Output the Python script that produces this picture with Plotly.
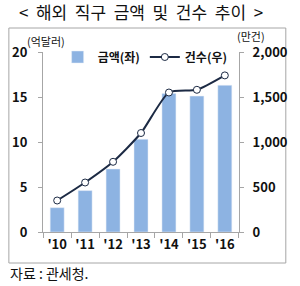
import plotly.graph_objects as go

years = ["'10", "'11", "'12", "'13", "'14", "'15", "'16"]
amount = [2.7, 4.6, 7.0, 10.3, 15.4, 15.1, 16.3]          # 억달러 (left)
count = [350, 550, 780, 1100, 1550, 1580, 1740]           # 만건 (right)

KFONT = "Noto Sans CJK KR"
W, H = 300, 286
L, R, T, B = 43, 244, 52, 232

def px(x):
    return (x - L) / (R - L)

def py(y):
    return (B - y) / (B - T)

fig = go.Figure()
fig.add_trace(go.Bar(
    x=years, y=amount, name="금액(좌)", marker_color="#8db3e2",
    width=0.5, yaxis="y"))
fig.add_trace(go.Scatter(
    x=years, y=count, name="건수(우)", mode="lines+markers", yaxis="y2",
    line=dict(color="#1c2a44", width=2, shape="spline", smoothing=0.6),
    marker=dict(symbol="circle", size=7, color="white",
                line=dict(color="#1c2a44", width=1))))

axis_font = dict(family=KFONT, size=13, color="#111", weight="bold")
fig.update_layout(
    width=W, height=H,
    margin=dict(l=L, r=W - R, t=T, b=H - B),
    paper_bgcolor="white", plot_bgcolor="white",
    showlegend=True,
    legend=dict(orientation="h", x=px(58), y=py(57), xanchor="left", yanchor="middle",
                font=dict(family=KFONT, size=12, color="#111", weight="bold"),
                bgcolor="rgba(0,0,0,0)", itemwidth=30, tracegroupgap=0,
                traceorder="normal"),
    title=dict(text="<\u00a0\u00a0해외\u00a0\u00a0직구\u00a0\u00a0금액\u00a0\u00a0및\u00a0\u00a0건수\u00a0\u00a0추이\u00a0\u00a0>",
               x=0.5, xanchor="center",
               y=1 - 13 / H, yanchor="middle", xref="paper",
               font=dict(family=KFONT, size=17, color="#111")),
    xaxis=dict(type="category", showline=True, linecolor="#a6a6a6", linewidth=1,
               ticks="outside", tickson="boundaries", ticklen=5, tickcolor="#a6a6a6",
               tickfont=axis_font, tickangle=0, showgrid=False, zeroline=False),
    yaxis=dict(range=[0, 20], tickvals=[0, 5, 10, 15, 20], showline=True,
               linecolor="#a6a6a6", ticks="outside", ticklen=4, tickcolor="#a6a6a6",
               tickfont=axis_font, showgrid=False, zeroline=False, ticklabelstandoff=8),
    yaxis2=dict(range=[0, 2000], tickvals=[0, 500, 1000, 1500, 2000],
                ticktext=["0", "500", "1,000", "1,500", "2,000"],
                overlaying="y", side="right", showline=True, linecolor="#a6a6a6",
                ticks="outside", ticklen=4, tickcolor="#a6a6a6",
                tickfont=axis_font, showgrid=False, zeroline=False, ticklabelstandoff=6),
    bargap=0.5,
)

fig.add_shape(type="rect", xref="paper", yref="paper",
              x0=px(8), x1=px(292), y0=py(263), y1=py(28),
              line=dict(color="#a6a6a6", width=1), fillcolor="rgba(0,0,0,0)", layer="below")

fig.add_annotation(text="(억달러)", xref="paper", yref="paper", x=px(46), y=py(41),
                   showarrow=False, xanchor="center", yanchor="middle",
                   font=dict(family=KFONT, size=11, color="#111"))
fig.add_annotation(text="(만건)", xref="paper", yref="paper", x=px(256), y=py(36),
                   showarrow=False, xanchor="center", yanchor="middle",
                   font=dict(family=KFONT, size=11, color="#111"))
fig.add_annotation(text="자료 : 관세청.", xref="paper", yref="paper", x=px(7), y=py(273),
                   showarrow=False, xanchor="left", yanchor="middle",
                   font=dict(family=KFONT, size=14, color="#111"))

fig.write_html("out.html")
